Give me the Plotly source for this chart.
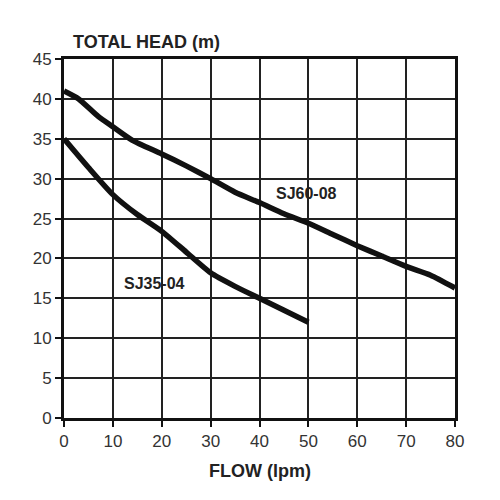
import plotly.graph_objects as go

#---DATA---
sj60_flow = [0, 3, 7, 10, 14, 20, 25, 30, 35, 40, 45, 50, 55, 60, 65, 70, 75, 80]
sj60_head = [41, 40, 37.8, 36.5, 34.8, 33.1, 31.6, 30, 28.3, 27, 25.6, 24.4, 23, 21.6, 20.3, 19, 17.9, 16.3]

sj35_flow = [0, 5, 10, 15, 20, 25, 30, 35, 40, 45, 50]
sj35_head = [35, 31.4, 28, 25.5, 23.4, 20.8, 18.2, 16.5, 15, 13.5, 12]

x_ticks = [0, 10, 20, 30, 40, 50, 60, 70, 80]
y_ticks = [0, 5, 10, 15, 20, 25, 30, 35, 40, 45]

#---PLOT---
fig = go.Figure()
fig.add_trace(go.Scatter(
    x=sj60_flow, y=sj60_head,
    name='SJ60-08',
    mode='lines',
    line=dict(color='#111111', width=5.5, shape='spline', smoothing=0.6),
    showlegend=False))
fig.add_trace(go.Scatter(
    x=sj35_flow, y=sj35_head,
    name='SJ35-04',
    mode='lines',
    line=dict(color='#111111', width=5.5, shape='spline', smoothing=0.6),
    showlegend=False))

#curve labels
fig.add_annotation(x=49.7, y=28.1, text='<b>SJ60-08</b>', showarrow=False,
                   font=dict(family='Liberation Sans, Arial', size=16, color='#222222'))
fig.add_annotation(x=18.6, y=16.9, text='<b>SJ35-04</b>', showarrow=False,
                   font=dict(family='Liberation Sans, Arial', size=16, color='#222222'))

#axis titles
fig.add_annotation(xref='paper', yref='paper', x=0.018, y=1.015,
                   xanchor='left', yanchor='bottom',
                   text='<b>TOTAL HEAD (m)</b>', showarrow=False,
                   font=dict(family='Liberation Sans, Arial', size=18, color='#222222'))
fig.add_annotation(xref='paper', yref='paper', x=0.5, y=-0.115,
                   xanchor='center', yanchor='top',
                   text='<b>FLOW (lpm)</b>', showarrow=False,
                   font=dict(family='Liberation Sans, Arial', size=18, color='#222222'))

#---STYLE---
#page body adds 8px, so margins are shifted back
fig.update_layout(
    width=500, height=500,
    autosize=False,
    margin=dict(l=56, r=53, t=51, b=90, pad=0),
    plot_bgcolor='white',
    paper_bgcolor='white',
    font=dict(family='Liberation Sans, Arial', size=17, color='#333333'))

fig.update_xaxes(
    range=[0, 80], tickvals=x_ticks,
    showgrid=True, gridcolor='#222222', gridwidth=1.5,
    showline=True, linecolor='#111111', linewidth=3, mirror=True,
    ticks='outside', ticklen=6, tickwidth=2, tickcolor='#111111',
    zeroline=False)
fig.update_yaxes(
    range=[0, 45], tickvals=y_ticks,
    showgrid=True, gridcolor='#222222', gridwidth=1.5,
    showline=True, linecolor='#111111', linewidth=3, mirror=True,
    ticks='outside', ticklen=6, tickwidth=2, tickcolor='#111111',
    zeroline=False)

fig.write_html("out.html")
